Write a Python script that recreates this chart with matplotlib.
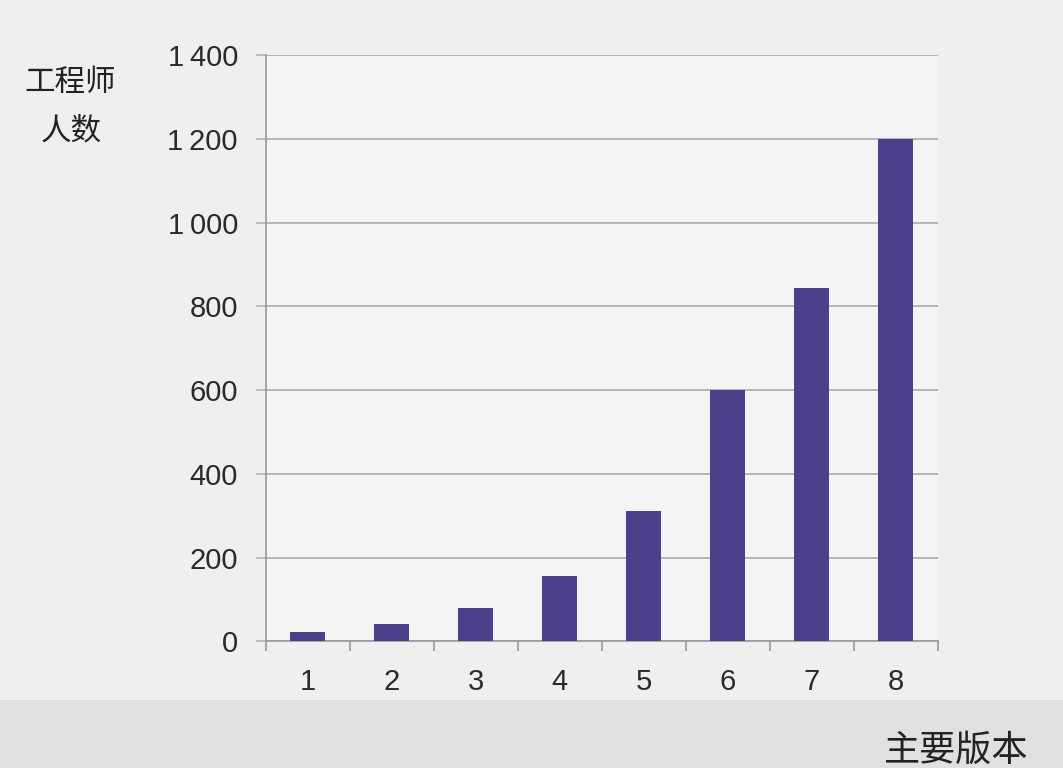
import numpy as np
import matplotlib.pyplot as plt
from matplotlib.ticker import FuncFormatter
from matplotlib.patches import Rectangle

versions = ['1', '2', '3', '4', '5', '6', '7', '8']
engineers = [21, 42, 80, 156, 311, 600, 845, 1200]
y_ticks = [0, 200, 400, 600, 800, 1000, 1200, 1400]

cjk = ['Noto Sans CJK SC', 'DejaVu Sans']
num_font = ['Liberation Sans', 'DejaVu Sans']

fig = plt.figure(figsize=(10.63, 7.68), dpi=100, facecolor='#efefef')
# darker band along the bottom of the slide
fig.patches.append(Rectangle((0, 0), 1, 0.088, transform=fig.transFigure,
                             facecolor='#e0e0e0', edgecolor='none', zorder=0))

ax = fig.add_axes([0.250, 0.165, 0.632, 0.763])
ax.set_facecolor('#f4f4f4')

x = np.arange(len(versions))
ax.bar(x, engineers, width=0.42, color='#4e3f8b', zorder=3)

ax.set_xlim(-0.5, len(versions) - 0.5)
ax.set_ylim(0, 1400)
ax.set_yticks(y_ticks)
ax.yaxis.set_major_formatter(FuncFormatter(
    lambda v, p: f'{int(v):,}'.replace(',', '\u2009')))
ax.grid(axis='y', color='#b5b5b5', linewidth=1.4, zorder=1)

ax.set_xticks(x)
ax.set_xticklabels(versions)
ax.set_xticks(np.arange(len(versions) + 1) - 0.5, minor=True)
ax.tick_params(axis='x', which='major', length=0, pad=19)
ax.tick_params(axis='x', which='minor', length=7, width=1.2, color='#999999')
ax.tick_params(axis='y', length=7, width=1.2, color='#b5b5b5', pad=13)

for lab in ax.get_xticklabels() + ax.get_yticklabels():
    lab.set_fontfamily(num_font)
    lab.set_fontsize(21)
    lab.set_color('#2a2a2a')

for s in ['top', 'right']:
    ax.spines[s].set_visible(False)
for s in ['left', 'bottom']:
    ax.spines[s].set_color('#999999')
    ax.spines[s].set_linewidth(1.2)

fig.text(0.066, 0.893, '工程师', family=cjk, fontsize=22, color='#222222',
         ha='center', va='center')
fig.text(0.067, 0.829, '人数', family=cjk, fontsize=22, color='#222222',
         ha='center', va='center')
fig.text(0.900, 0.022, '主要版本', family=cjk, fontsize=26, color='#222222',
         ha='center', va='center')

fig.savefig('out.png', dpi=100, facecolor=fig.get_facecolor())
